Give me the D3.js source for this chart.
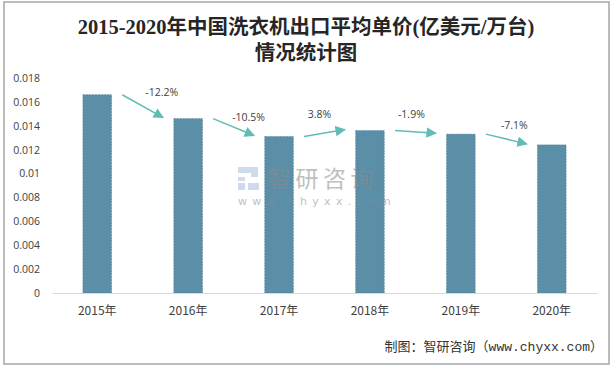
<!DOCTYPE html>
<html><head><meta charset="utf-8">
<script src="https://cdn.jsdelivr.net/npm/d3@7"></script>
<style>html,body{margin:0;padding:0;background:#fff;}svg{display:block;}</style>
</head><body>
<script>
const categories = ["2015年","2016年","2017年","2018年","2019年","2020年"];
const values = [0.0166, 0.0146, 0.0131, 0.0136, 0.0133, 0.0124];
const changes = ["-12.2%","-10.5%","3.8%","-1.9%","-7.1%"];
const yTicks = [0,0.002,0.004,0.006,0.008,0.01,0.012,0.014,0.016,0.018];
const labelOffsets = [[19,-14],[15,-10],[-5,-19],[-4,-18],[8,-14]];

const W = 615, H = 368;
const svg = d3.select("body").append("svg").attr("width", W).attr("height", H);

svg.append("rect").attr("x",4).attr("y",2).attr("width",605).attr("height",362)
  .attr("fill","#fff").attr("stroke","#a6a6a6").attr("stroke-width",1.5);

const x = d3.scaleBand().domain(categories).range([52, 597]).paddingInner(0.685).paddingOuter(0.34);
const y = d3.scaleLinear().domain([0, 0.018]).range([293, 78]);

// title
const title = svg.append("text").attr("text-anchor","middle")
  .attr("font-family","'Liberation Serif','Noto Sans CJK SC',serif").attr("font-weight",600)
  .attr("font-size",20.5).attr("fill","#262626");
title.append("tspan").attr("x",306).attr("y",34).text("2015-2020年中国洗衣机出口平均单价(亿美元/万台)");
title.append("tspan").attr("x",306).attr("y",60).text("情况统计图");

// y axis labels
const yAxis = d3.axisLeft(y).tickValues(yTicks).tickSize(0).tickPadding(0)
  .tickFormat(d => d === 0 ? "0" : String(+d.toFixed(3)));
const ga = svg.append("g").attr("transform","translate(40,0)").call(yAxis);
ga.select(".domain").remove();
ga.selectAll("text").attr("font-family","'Open Sans','Liberation Sans',sans-serif")
  .attr("font-size",10.5).attr("fill","#404040");

// bars
svg.append("g").selectAll("rect").data(values).join("rect")
  .attr("x",(d,i)=>x(categories[i])).attr("width",x.bandwidth())
  .attr("y",d=>y(d)).attr("height",d=>y(0)-y(d))
  .attr("fill","#5b8fa8").attr("stroke","#4f8099").attr("stroke-width",0.6)
  .attr("stroke-dasharray","2,1");

// x axis
const xAxis = d3.axisBottom(x).tickSize(0).tickPadding(13);
const gx = svg.append("g").attr("transform","translate(0,293)").call(xAxis);
gx.select(".domain").attr("stroke","#d9d9d9").attr("stroke-width",1);
gx.selectAll("text").attr("font-family","'Noto Sans CJK SC',sans-serif")
  .attr("font-size",12).attr("fill","#404040");

// watermark
const wm = svg.append("g").attr("opacity",0.55);
wm.append("text").attr("x",268).attr("y",187).attr("font-family","'Noto Sans CJK SC',sans-serif")
  .attr("font-size",23).attr("fill","#8c8c8c").attr("letter-spacing",4.5).text("智研咨询");
wm.append("text").attr("x",238).attr("y",205).attr("font-family","'DejaVu Sans',sans-serif")
  .attr("font-size",11).attr("fill","#8c8c8c").attr("letter-spacing",5.3).text("www.chyxx.com");
wm.append("path").attr("d","M238,167h20v10h-13v4h-7v-4h13v-4h-13zM238,183h7v7h-7zM248,183h11v7h-11z")
  .attr("fill","#a9bfe0");

// arrows
const defs = svg.append("defs");
defs.append("marker").attr("id","ah").attr("viewBox","0 0 10 10").attr("refX",9).attr("refY",5)
  .attr("markerWidth",7).attr("markerHeight",7).attr("orient","auto")
  .append("path").attr("d","M0,0L10,5L0,10z").attr("fill","#5fbdb6");

const cx = c => x(c) + x.bandwidth()/2;
changes.forEach((t,i)=>{
  const x1 = cx(categories[i]) + 25, y1 = y(values[i]);
  const x2 = cx(categories[i+1]) - 25, y2 = y(values[i+1]) - 1;
  svg.append("line").attr("x1",x1).attr("y1",y1).attr("x2",x2).attr("y2",y2)
    .attr("stroke","#5fbdb6").attr("stroke-width",1.5).attr("marker-end","url(#ah)");
  svg.append("text").attr("x",(x1+x2)/2 + labelOffsets[i][0]).attr("y",(y1+y2)/2 + labelOffsets[i][1] + 4)
    .attr("text-anchor","middle").attr("font-family","'Open Sans','Liberation Sans',sans-serif")
    .attr("font-size",10.5).attr("fill","#404040").text(t);
});

// source
svg.append("text").attr("x",603).attr("y",351).attr("text-anchor","end")
  .attr("font-family","'Liberation Mono','Noto Sans CJK SC',monospace").attr("font-size",13)
  .attr("fill","#333").text("制图：智研咨询（www.chyxx.com）");
</script>
</body></html>
